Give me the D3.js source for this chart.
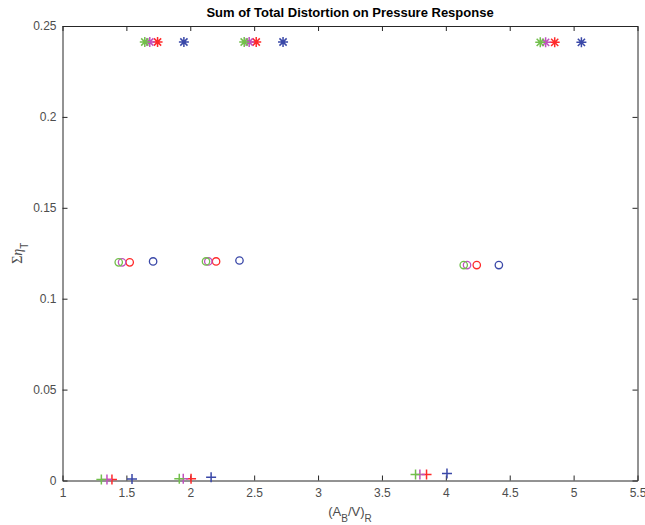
<!DOCTYPE html>
<html>
<head>
<meta charset="utf-8">
<script src="https://cdn.jsdelivr.net/npm/d3@7"></script>
<style>
  body { margin: 0; background: #fff; }
  text { font-family: "Liberation Sans", Arial, sans-serif; }
</style>
</head>
<body>
<script>
// four cases, colours in draw order
var caseNames = ['Case 4', 'Case 3', 'Case 2', 'Case 1'];
var caseColors = ['#3a48a8', '#ff2a2a', '#c050c0', '#72bf4c'];

// '+' markers
var plusX = [[1.544, 2.163, 4.009], [1.387, 2.006, 3.849], [1.348, 1.945, 3.797], [1.304, 1.914, 3.763]];
var plusY = [[0.0008, 0.0018, 0.0038], [0.0006, 0.0010, 0.0033], [0.0006, 0.0010, 0.0033], [0.0006, 0.0010, 0.0033]];
// 'o' markers
var circX = [[1.709, 2.385, 4.415], [1.526, 2.202, 4.242], [1.466, 2.141, 4.166], [1.440, 2.123, 4.140]];
var circY = [[0.1205, 0.1210, 0.1185], [0.1200, 0.1205, 0.1185], [0.1200, 0.1205, 0.1185], [0.1200, 0.1205, 0.1185]];
// '*' markers
var starX = [[1.950, 2.726, 5.061], [1.744, 2.516, 4.852], [1.683, 2.461, 4.781], [1.644, 2.422, 4.739]];
var starY = [[0.2412, 0.2412, 0.2410], [0.2412, 0.2412, 0.2410], [0.2412, 0.2412, 0.2410], [0.2412, 0.2412, 0.2410]];

var xTicks = [1, 1.5, 2, 2.5, 3, 3.5, 4, 4.5, 5, 5.5];
var yTicks = [0, 0.05, 0.1, 0.15, 0.2, 0.25];

var W = 645, H = 525;
var PL = 62.5, PR = 637.5, PT = 26, PB = 480.5;

var svg = d3.select('body').append('svg')
  .attr('width', W)
  .attr('height', H);

var x = d3.scaleLinear().domain([1, 5.5]).range([PL, PR]);
var y = d3.scaleLinear().domain([0, 0.25]).range([PB, PT]);

var axisColor = '#262626';
var labelColor = '#4d4d4d';

function styleAxis(g) {
  g.select('.domain').attr('stroke', axisColor);
  g.selectAll('.tick line').attr('stroke', axisColor);
  g.selectAll('.tick text').attr('fill', labelColor).style('font-size', '12px');
}

svg.append('g')
  .attr('transform', 'translate(0,' + PB + ')')
  .call(d3.axisBottom(x).tickValues(xTicks).tickSize(-5).tickSizeOuter(0).tickPadding(8)
    .tickFormat(function (d) { return d; }))
  .call(styleAxis);
svg.append('g')
  .attr('transform', 'translate(0,' + PT + ')')
  .call(d3.axisTop(x).tickValues(xTicks).tickSize(-5).tickSizeOuter(0).tickFormat(''))
  .call(styleAxis);
svg.append('g')
  .attr('transform', 'translate(' + PL + ',0)')
  .call(d3.axisLeft(y).tickValues(yTicks).tickSize(-5).tickSizeOuter(0).tickPadding(6)
    .tickFormat(function (d) { return d; }))
  .call(styleAxis);
svg.append('g')
  .attr('transform', 'translate(' + PR + ',0)')
  .call(d3.axisRight(y).tickValues(yTicks).tickSize(-5).tickSizeOuter(0).tickFormat(''))
  .call(styleAxis);

// markers
var plusPath = 'M-5,0H5M0,-5V5';
var starPath = 'M-5,0H5M0,-5V5M-3.6,-3.6L3.6,3.6M-3.6,3.6L3.6,-3.6';

function drawSet(xs, ys, kind) {
  xs.forEach(function (row, i) {
    var pts = row.map(function (v, j) { return [v, ys[i][j]]; });
    var g = svg.append('g').attr('class', caseNames[i]);
    if (kind === 'o') {
      g.selectAll('circle').data(pts).enter().append('circle')
        .attr('cx', function (d) { return x(d[0]); })
        .attr('cy', function (d) { return y(d[1]); })
        .attr('r', 3.7)
        .attr('fill', 'none')
        .attr('stroke', caseColors[i])
        .attr('stroke-width', 1.3);
    } else {
      g.selectAll('path').data(pts).enter().append('path')
        .attr('transform', function (d) { return 'translate(' + x(d[0]) + ',' + y(d[1]) + ')'; })
        .attr('d', kind === '+' ? plusPath : starPath)
        .attr('fill', 'none')
        .attr('stroke', caseColors[i])
        .attr('stroke-width', 1.5);
    }
  });
}
drawSet(plusX, plusY, '+');
drawSet(circX, circY, 'o');
drawSet(starX, starY, '*');

// title and labels
svg.append('text')
  .attr('x', (PL + PR) / 2)
  .attr('y', 17)
  .attr('text-anchor', 'middle')
  .style('font-size', '13px')
  .style('font-weight', 'bold')
  .attr('fill', '#000')
  .text('Sum of Total Distortion on Pressure Response');

var xl = svg.append('text')
  .attr('x', (PL + PR) / 2)
  .attr('y', 516)
  .attr('text-anchor', 'middle')
  .style('font-size', '13px')
  .attr('fill', labelColor);
xl.append('tspan').text('(A');
xl.append('tspan').attr('baseline-shift', 'sub').style('font-size', '10px').text('B');
xl.append('tspan').text('/V)');
xl.append('tspan').attr('baseline-shift', 'sub').style('font-size', '10px').text('R');

var yl = svg.append('text')
  .attr('transform', 'translate(22,' + ((PT + PB) / 2) + ') rotate(-90)')
  .attr('text-anchor', 'middle')
  .style('font-family', '"Liberation Serif", "DejaVu Serif", serif')
  .style('font-size', '14px')
  .attr('fill', labelColor);
yl.append('tspan').text('\u03A3');
yl.append('tspan').style('font-style', 'italic').text('\u03B7');
yl.append('tspan').attr('baseline-shift', 'sub').style('font-size', '10px')
  .style('font-family', '"Liberation Sans", Arial, sans-serif').text('T');
</script>
</body>
</html>
